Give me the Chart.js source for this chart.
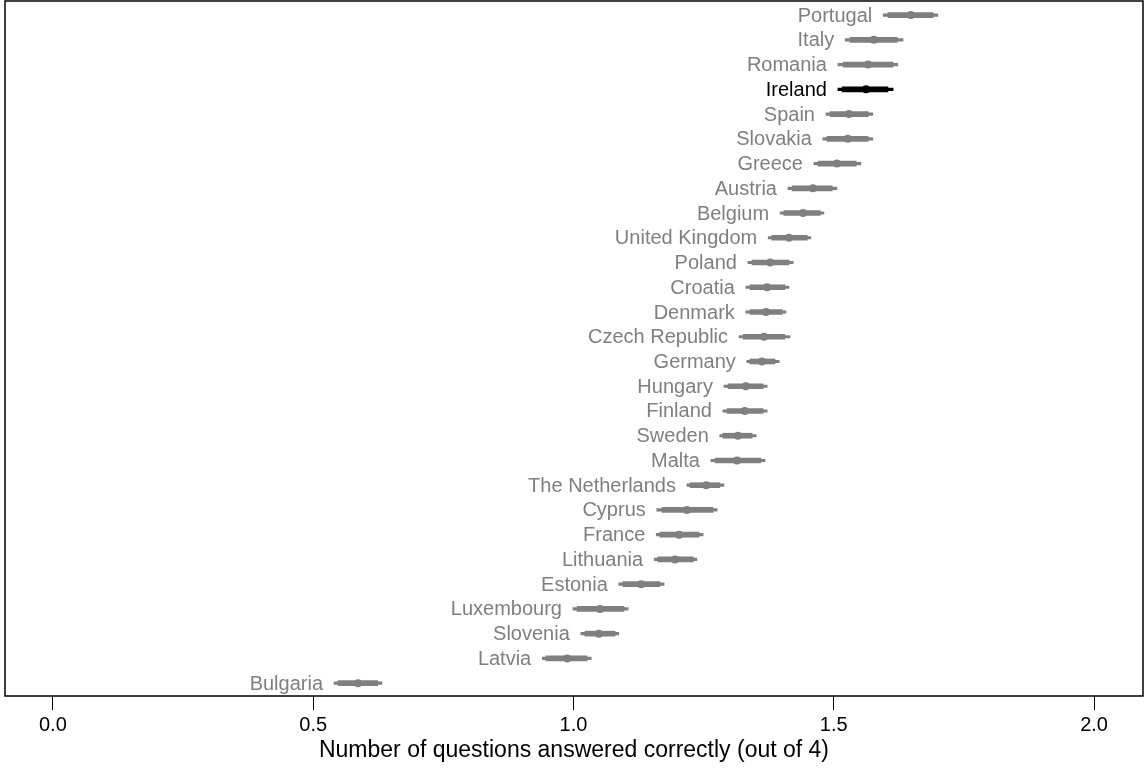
<!DOCTYPE html>
<html>
<head>
<meta charset="utf-8">
<script src="https://cdn.jsdelivr.net/npm/chart.js@4.4.1/dist/chart.umd.min.js"></script>
<style>
  html, body { margin: 0; padding: 0; background: #fff; }
  #wrap { width: 1146px; height: 769px; position: relative; }
</style>
</head>
<body>
<div id="wrap"><canvas id="c" width="1146" height="769"></canvas></div>
<script>
// Countries, top to bottom
const countries = ['Portugal','Italy','Romania','Ireland','Spain','Slovakia','Greece','Austria','Belgium','United Kingdom','Poland','Croatia','Denmark','Czech Republic','Germany','Hungary','Finland','Sweden','Malta','The Netherlands','Cyprus','France','Lithuania','Estonia','Luxembourg','Slovenia','Latvia','Bulgaria'];
// Mean number of correct answers
const means     = [1.648,1.577,1.566,1.562,1.529,1.527,1.506,1.460,1.441,1.414,1.378,1.372,1.370,1.366,1.362,1.331,1.329,1.316,1.314,1.255,1.218,1.203,1.195,1.130,1.051,1.049,0.988,0.586];
// Outer interval (thin line)
const outerLow  = [1.595,1.522,1.508,1.508,1.485,1.479,1.462,1.412,1.397,1.374,1.335,1.331,1.331,1.318,1.333,1.289,1.287,1.281,1.264,1.218,1.160,1.159,1.155,1.087,0.999,1.014,0.940,0.540];
const outerHigh = [1.700,1.633,1.623,1.614,1.575,1.575,1.552,1.506,1.481,1.456,1.422,1.414,1.408,1.416,1.395,1.372,1.372,1.351,1.368,1.289,1.276,1.249,1.237,1.174,1.105,1.087,1.034,0.632];
// Inner interval (thick line)
const innerLow  = [1.604,1.531,1.518,1.516,1.493,1.487,1.470,1.420,1.404,1.381,1.343,1.339,1.339,1.326,1.339,1.297,1.295,1.287,1.272,1.224,1.170,1.166,1.162,1.095,1.007,1.022,0.947,0.548];
const innerHigh = [1.691,1.622,1.614,1.604,1.566,1.566,1.543,1.497,1.474,1.449,1.414,1.406,1.401,1.406,1.387,1.364,1.364,1.343,1.360,1.281,1.268,1.241,1.230,1.166,1.097,1.080,1.026,0.624];
// X axis ticks
const xTickValues = [0, 0.5, 1, 1.5, 2];
const xTickLabels = ['0.0', '0.5', '1.0', '1.5', '2.0'];
const xTitle = 'Number of questions answered correctly (out of 4)';
const highlighted = 'Ireland';

const GREY = '#7f7f7f';
const BLACK = '#000000';
const FONT = "'Liberation Sans', Arial, Helvetica, sans-serif";

const n = countries.length;
const rowPos = countries.map((_, i) => n - i);
const colours = countries.map(c => c === highlighted ? BLACK : GREY);

// Frame round the plotting region
const framePlugin = {
  id: 'frame',
  afterDatasetsDraw(chart) {
    const { ctx, chartArea: a } = chart;
    ctx.save();
    ctx.strokeStyle = '#000';
    ctx.lineWidth = 1.5;
    ctx.strokeRect(a.left, a.top, a.right - a.left, a.bottom - a.top);
    ctx.restore();
  }
};

// Country names written just left of each interval
const namePlugin = {
  id: 'names',
  afterDatasetsDraw(chart) {
    const { ctx, scales } = chart;
    ctx.save();
    ctx.font = '20px ' + FONT;
    ctx.textAlign = 'right';
    ctx.textBaseline = 'middle';
    countries.forEach((c, i) => {
      ctx.fillStyle = colours[i];
      const x = scales.x.getPixelForValue(outerLow[i]) - 11;
      const y = scales.y.getPixelForValue(rowPos[i]);
      ctx.fillText(c, x, y + 1);
    });
    ctx.restore();
  }
};

new Chart(document.getElementById('c'), {
  type: 'bar',
  data: {
    datasets: [
      {
        label: 'outer',
        data: countries.map((c, i) => ({ y: rowPos[i], x: [outerLow[i], outerHigh[i]] })),
        backgroundColor: colours,
        barThickness: 2.5,
        grouped: false,
        borderSkipped: false,
        order: 3
      },
      {
        label: 'inner',
        data: countries.map((c, i) => ({ y: rowPos[i], x: [innerLow[i], innerHigh[i]] })),
        backgroundColor: colours,
        barThickness: 5,
        grouped: false,
        borderSkipped: false,
        order: 2
      },
      {
        type: 'scatter',
        label: 'mean',
        data: countries.map((c, i) => ({ x: means[i], y: rowPos[i] })),
        pointBackgroundColor: colours,
        pointBorderColor: colours,
        pointRadius: 4,
        pointBorderWidth: 0,
        order: 1
      }
    ]
  },
  options: {
    indexAxis: 'y',
    responsive: false,
    animation: false,
    layout: { autoPadding: false, padding: { left: 5, right: 3, top: 1, bottom: 0 } },
    plugins: { legend: { display: false }, tooltip: { enabled: false } },
    scales: {
      y: {
        type: 'linear',
        display: false,
        offset: false,
        grace: 0,
        min: 0.48,
        max: 28.57
      },
      x: {
        type: 'linear',
        min: -0.092,
        max: 2.094,
        afterFit(scale) { scale.height = 73; },
        afterBuildTicks(scale) { scale.ticks = xTickValues.map(v => ({ value: v })); },
        border: { display: false },
        grid: { display: true, drawOnChartArea: false, drawTicks: true, tickLength: 14, color: '#000', lineWidth: 1 },
        ticks: {
          color: '#000',
          padding: 3,
          maxRotation: 0,
          font: { family: FONT, size: 20 },
          callback(v) { const k = xTickValues.indexOf(v); return k >= 0 ? xTickLabels[k] : ''; }
        },
        title: {
          display: true,
          text: xTitle,
          color: '#000',
          font: { family: FONT, size: 23 },
          padding: { top: 0, bottom: 5 }
        }
      }
    }
  },
  plugins: [framePlugin, namePlugin]
});
</script>
</body>
</html>
